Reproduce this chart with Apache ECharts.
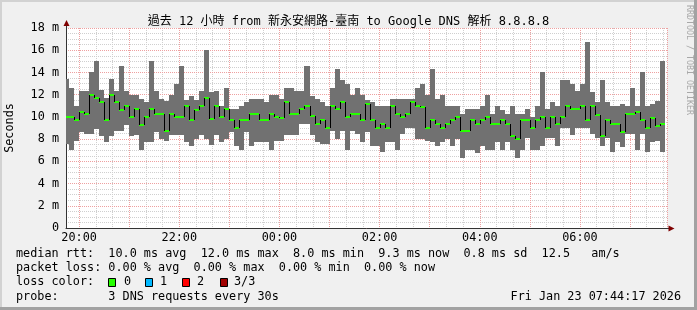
<!DOCTYPE html>
<html><head><meta charset="utf-8">
<script src="https://cdn.jsdelivr.net/npm/echarts@6/dist/echarts.min.js"></script>
<style>html,body{margin:0;padding:0;background:#f0f0f0}#c{width:697px;height:310px}</style>
</head><body><div id="c"></div>
<script>
const MONO = "'DejaVu Sans Mono','Noto Sans CJK TC',monospace";
const chartTitle = '過去 12 小時 from 新永安網路-臺南 to Google DNS 解析 8.8.8.8';
const yAxisName = 'Seconds';
const watermark = 'RRDTOOL / TOBI OETIKER';
const axisStart = [2026, 0, 22, 19, 44, 17];
const spanHours = 12;
const firstBin = [2026, 0, 22, 19, 42, 0];
const binMinutes = 6;
const yMin = 0, yMax = 18, yStep = 2;
const yTickLabels = ['0', '2 m', '4 m', '6 m', '8 m', '10 m', '12 m', '14 m', '16 m', '18 m'];
const xLabelHours = [20, 22, 0, 2, 4, 6];

const maxVals = [
 13.4,12.6,11.0,12.3,12.3,14.0,15.0,12.4,11.7,13.4,
 12.3,14.6,12.3,12.0,12.0,11.65,11.3,15.0,12.3,11.65,
 11.4,12.0,13.0,14.6,11.5,11.9,11.5,12.3,16.0,12.2,
 12.3,11.0,12.6,10.7,10.7,11.0,11.3,11.65,11.65,11.65,
 11.3,12.0,12.0,11.65,12.6,12.6,12.34,12.34,14.6,11.9,
 11.6,11.3,11.0,12.64,14.3,13.36,12.94,12.0,12.64,12.0,
 11.5,11.3,11.0,11.0,11.0,11.65,11.65,11.65,11.65,11.65,
 12.64,12.94,12.0,14.3,11.65,12.0,11.0,11.0,11.0,10.3,
 10.7,10.7,10.7,11.0,12.0,10.3,11.0,10.6,10.3,11.0,
 10.3,10.3,10.7,10.03,11.0,14.0,10.7,11.3,11.0,13.36,
 13.36,12.94,12.34,12.94,16.7,12.2,11.3,13.36,11.3,11.0,
 11.0,11.2,11.0,12.64,11.0,14.0,11.0,11.2,11.44,15.0
];
const minVals = [
 7.6,7.0,7.8,8.6,8.5,8.5,8.9,8.3,7.7,8.3,
 8.7,8.7,9.3,8.3,8.4,7.0,7.7,7.7,8.6,8.0,
 7.8,8.4,8.4,8.4,7.7,7.4,8.0,8.4,8.0,7.5,
 8.4,7.7,8.0,8.6,7.4,7.0,8.6,7.4,7.7,7.7,
 7.7,7.0,7.8,7.8,8.4,8.4,8.4,9.34,9.34,8.4,
 7.7,7.54,7.54,8.74,8.0,8.74,7.0,8.74,8.44,7.7,
 8.6,7.4,7.4,6.8,7.7,7.7,7.0,8.44,9.04,9.04,
 8.0,8.0,7.84,7.7,7.4,7.7,8.0,7.4,8.0,6.34,
 7.0,7.0,6.79,7.4,7.0,7.0,7.7,7.0,7.7,7.0,
 6.34,7.0,8.14,7.0,7.0,7.4,8.14,8.14,7.4,9.04,
 9.04,8.34,9.04,9.04,9.04,8.44,8.14,7.4,8.14,6.8,
 7.7,7.3,8.44,8.44,7.0,8.44,6.8,7.7,7.84,6.8
];
const medVals = [
 10.0,10.0,9.7,10.4,10.3,12.0,11.7,11.3,9.7,12.0,
 11.3,10.6,11.0,10.0,10.7,9.3,10.0,10.7,10.3,10.3,
 8.7,10.3,10.0,10.0,11.0,9.7,10.6,11.0,11.7,9.8,
 11.0,10.0,10.7,9.7,9.0,9.7,9.7,10.3,10.3,9.7,
 9.7,10.3,10.0,9.9,11.35,10.3,10.3,10.7,11.0,10.1,
 9.34,9.7,9.0,11.0,10.7,11.35,10.0,10.3,10.3,9.7,
 11.2,9.7,9.04,9.34,9.04,11.0,10.3,10.03,10.3,11.35,
 11.0,10.9,9.04,9.7,9.34,9.04,9.34,9.7,10.03,8.7,
 8.7,9.7,9.34,9.7,10.03,9.34,9.34,9.7,9.34,8.3,
 8.0,9.7,9.7,9.04,9.7,10.03,9.04,10.03,9.34,10.03,
 11.0,10.7,10.7,11.0,9.7,11.0,10.15,8.3,9.7,9.34,
 9.34,8.6,10.3,10.3,10.4,9.7,9.04,9.94,9.14,9.34
];

const legendLine1 = 'median rtt:  10.0 ms avg  12.0 ms max  8.0 ms min  9.3 ms now  0.8 ms sd  12.5   am/s';
const legendLine2 = 'packet loss: 0.00 % avg  0.00 % max  0.00 % min  0.00 % now';
const legendLine3 = 'loss color:';
const lossLabels = ['0', '1', '2', '3/3'];
const lossColors = ['#26ff00', '#00b8ff', '#ff0000', '#a00000'];
const legendLine4 = 'probe:       3 DNS requests every 30s';
const stampText = 'Fri Jan 23 07:44:17 2026';

const SMOKE = '#717171';
const MED = '#26ff00';
const MAJOR = '#eea0a0';
const MINOR = '#cfcfcf';
const FS = 11.8;

const xMin = new Date(...axisStart).getTime();
const xMax = xMin + spanHours * 3600e3;
const t0 = new Date(...firstBin).getTime();
const binMs = binMinutes * 60e3;

const smokeData = maxVals.map((hi, i) => [Math.max(t0 + i * binMs, xMin), t0 + (i + 1) * binMs, minVals[i], hi]);
const medData = medVals.map((m, i) => [Math.max(t0 + i * binMs, xMin), t0 + (i + 1) * binMs, m, i > 0 ? medVals[i - 1] : m]);

const pad = n => (n < 10 ? '0' : '') + n;

const chart = echarts.init(document.getElementById('c'), null, {renderer: 'canvas'});

const lab = {fontFamily: MONO, fontSize: FS, color: '#000'};
const gfx = [];
gfx.push({type: 'rect', shape: {x: 0, y: 0, width: 697, height: 2}, style: {fill: '#d2d2d2'}, z: 100});
gfx.push({type: 'rect', shape: {x: 0, y: 0, width: 2, height: 310}, style: {fill: '#d2d2d2'}, z: 100});
gfx.push({type: 'rect', shape: {x: 694, y: 0, width: 3, height: 310}, style: {fill: '#a2a2a2'}, z: 100});
gfx.push({type: 'rect', shape: {x: 0, y: 307, width: 697, height: 3}, style: {fill: '#a2a2a2'}, z: 100});
gfx.push({type: 'text', x: 348.5, y: 21.5, style: {text: chartTitle, fontFamily: MONO, fontSize: 12, fill: '#000', textAlign: 'center', textVerticalAlign: 'middle'}});
gfx.push({type: 'text', x: 689, y: 5, rotation: -Math.PI / 2, style: {text: watermark, fontFamily: MONO, fontSize: 8.3, fill: '#a8a8a8', textAlign: 'left', textVerticalAlign: 'middle'}});
const ly = [254.3, 268.3, 282.3, 296.5];
[legendLine1, legendLine2, legendLine3, legendLine4].forEach((t, i) => {
  gfx.push({type: 'text', x: 16, y: ly[i], style: {text: t, fontFamily: MONO, fontSize: FS, fill: '#000', textAlign: 'left', textVerticalAlign: 'middle'}});
});
gfx.push({type: 'text', x: 681, y: ly[3], style: {text: stampText, fontFamily: MONO, fontSize: FS, fill: '#000', textAlign: 'right', textVerticalAlign: 'middle'}});
const boxX = [108.5, 145.5, 182.5, 220.5];
const boxLabelX = [124, 160, 197, 234];
lossLabels.forEach((t, i) => {
  gfx.push({type: 'rect', shape: {x: boxX[i], y: 278.5, width: 7, height: 8}, style: {fill: lossColors[i], stroke: '#000', lineWidth: 1}});
  gfx.push({type: 'text', x: boxLabelX[i], y: ly[2], style: {text: t, fontFamily: MONO, fontSize: FS, fill: '#000', textAlign: 'left', textVerticalAlign: 'middle'}});
});
gfx.push({type: 'line', shape: {x1: 66.5, y1: 28, x2: 66.5, y2: 25}, style: {stroke: '#333', lineWidth: 1}, z: 50});
gfx.push({type: 'polygon', shape: {points: [[63.5, 26], [69.5, 26], [66.5, 20]]}, style: {fill: '#7f0000'}, z: 50});
gfx.push({type: 'line', shape: {x1: 667, y1: 228.5, x2: 670, y2: 228.5}, style: {stroke: '#333', lineWidth: 1}, z: 50});
gfx.push({type: 'polygon', shape: {points: [[668.5, 225.5], [668.5, 231.5], [674.5, 228.5]]}, style: {fill: '#7f0000'}, z: 50});

const option = {
  animation: false,
  backgroundColor: '#f0f0f0',
  grid: {left: 66, right: 30, top: 28, bottom: 82, show: true, backgroundColor: '#ffffff', borderWidth: 0, containLabel: false, outerBoundsMode: 'none'},
  xAxis: [
    {
      type: 'time', min: xMin, max: xMax, minInterval: 3600e3, maxInterval: 3600e3, z: 1,
      axisLine: {show: true, lineStyle: {color: '#333', width: 1}},
      axisTick: {show: false},
      splitLine: {show: true, lineStyle: {color: MAJOR, type: [1, 1], width: 1}},
      axisLabel: {
        ...lab, margin: 4, hideOverlap: false, showMinLabel: false, showMaxLabel: false,
        formatter: v => { const d = new Date(Number(v)); return (d.getMinutes() === 0 && xLabelHours.includes(d.getHours())) ? pad(d.getHours()) + ':00' : ''; }
      }
    },
    {
      type: 'time', min: xMin, max: xMax, minInterval: 1800e3, maxInterval: 1800e3, z: 0, position: 'bottom',
      axisLine: {show: false}, axisTick: {show: false}, axisLabel: {show: false},
      splitLine: {show: true, lineStyle: {color: MINOR, type: [1, 1], width: 1}}
    }
  ],
  yAxis: {
    type: 'value', min: yMin, max: yMax, interval: yStep, z: 1,
    name: yAxisName, nameLocation: 'middle', nameRotate: 90, nameGap: 50,
    nameTextStyle: {fontFamily: MONO, fontSize: FS, color: '#000'},
    axisLine: {show: true, lineStyle: {color: '#333', width: 1}},
    axisTick: {show: false},
    axisLabel: {...lab, margin: 7, formatter: v => yTickLabels[Math.round(Number(v) / yStep)]},
    splitLine: {show: true, lineStyle: {color: MAJOR, type: [1, 1], width: 1}},
    minorTick: {show: false, splitNumber: 4},
    minorSplitLine: {show: true, lineStyle: {color: MINOR, type: [1, 1], width: 1}}
  },
  series: [
    {
      type: 'custom', name: 'smoke', xAxisIndex: 0, z: 2, data: smokeData,
      encode: {x: [0, 1], y: [2, 3]},
      renderItem: (p, api) => {
        const a = api.coord([api.value(0), api.value(3)]);
        const b = api.coord([api.value(1), api.value(2)]);
        const x0 = Math.round(a[0]), x1 = Math.round(b[0]);
        return {type: 'rect', shape: {x: x0, y: Math.round(a[1]), width: x1 - x0, height: Math.round(b[1]) - Math.round(a[1])}, style: {fill: SMOKE}};
      }
    },
    {
      type: 'custom', name: 'median', xAxisIndex: 0, z: 3, data: medData,
      encode: {x: [0, 1], y: [2, 3]},
      renderItem: (p, api) => {
        const a = api.coord([api.value(0), api.value(2)]);
        const b = api.coord([api.value(1), api.value(2)]);
        const c = api.coord([api.value(0), api.value(3)]);
        const x0 = Math.round(a[0]), x1 = Math.round(b[0]);
        const y = Math.round(a[1]), yp = Math.round(c[1]);
        return {type: 'group', children: [
          {type: 'rect', shape: {x: x0, y: y - 1, width: x1 - x0, height: 2}, style: {fill: MED}},
          {type: 'line', shape: {x1: x0 + 0.5, y1: yp, x2: x0 + 0.5, y2: y}, style: {stroke: '#000', lineWidth: 1}}
        ]};
      }
    }
  ],
  graphic: gfx
};
chart.setOption(option);
</script>
</body></html>
